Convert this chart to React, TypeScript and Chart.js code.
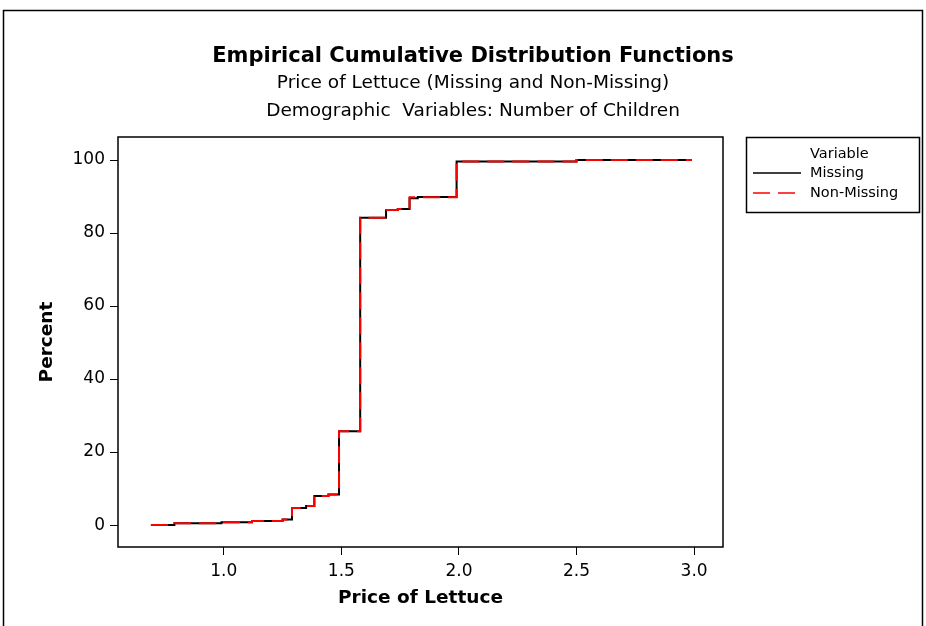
import React, { useEffect, useRef } from 'react';
import { Chart, registerables } from 'chart.js';

Chart.register(...registerables);

const FONT = '"DejaVu Sans", sans-serif';

const missingPrice = [0.69, 0.79, 0.99, 1.12, 1.25, 1.29, 1.35, 1.385, 1.445, 1.49, 1.58, 1.69, 1.74, 1.79, 1.825, 1.99, 2.5, 2.99];
const missingPercent = [0, 0.5, 0.8, 1.1, 1.5, 4.7, 5.2, 8.0, 8.4, 25.7, 84.2, 86.3, 86.6, 89.5, 89.9, 99.6, 100, 100];
const nonMissingPrice = [0.69, 0.79, 0.99, 1.12, 1.25, 1.29, 1.35, 1.385, 1.445, 1.49, 1.58, 1.69, 1.74, 1.79, 1.99, 2.5, 2.99];
const nonMissingPercent = [0, 0.5, 0.8, 1.1, 1.5, 4.7, 5.2, 8.0, 8.4, 25.7, 84.2, 86.3, 86.6, 89.8, 99.6, 100, 100];

const xTicks = [1.0, 1.5, 2.0, 2.5, 3.0];
const yTicks = [0, 20, 40, 60, 80, 100];

const titleText = 'Empirical Cumulative Distribution Functions';
const subtitleLines = ['Price of Lettuce (Missing and Non-Missing)', 'Demographic  Variables: Number of Children'];
const legendTitle = 'Variable';
const seriesNames = ['Missing', 'Non-Missing'];
const xAxisTitle = 'Price of Lettuce';
const yAxisTitle = 'Percent';

const toPoints = (xs: number[], ys: number[]) => xs.map((x, i) => ({ x, y: ys[i] }));

const decorPlugin = {
  id: 'decor',
  beforeDraw(chart: any) {
    const { ctx, width, height } = chart;
    ctx.save();
    ctx.fillStyle = '#ffffff';
    ctx.fillRect(0, 0, width, height);
    ctx.restore();
  },
  afterDraw(chart: any) {
    const { ctx, chartArea: a } = chart;
    ctx.save();
    ctx.strokeStyle = '#000';
    ctx.lineWidth = 1.5;
    // outer frame
    ctx.beginPath();
    ctx.moveTo(3.5, 626);
    ctx.lineTo(3.5, 10.5);
    ctx.lineTo(922.5, 10.5);
    ctx.lineTo(922.5, 626);
    ctx.stroke();
    // plot frame
    ctx.strokeRect(a.left, a.top, a.right - a.left, a.bottom - a.top);
    // titles
    ctx.fillStyle = '#000';
    ctx.textAlign = 'center';
    ctx.textBaseline = 'middle';
    ctx.font = `bold 21px ${FONT}`;
    ctx.fillText(titleText, 473, 57);
    ctx.font = `18.5px ${FONT}`;
    ctx.fillText(subtitleLines[0], 473, 83);
    ctx.fillText(subtitleLines[1], 473, 111);
    // legend
    const lx = 746, ly = 137, lw = 173, lh = 75;
    ctx.strokeRect(lx + 0.5, ly + 0.5, lw, lh);
    ctx.font = `14.5px ${FONT}`;
    ctx.textAlign = 'left';
    ctx.fillText(legendTitle, 810, 154);
    const ds = chart.data.datasets;
    const rows = [173, 193];
    rows.forEach((ry, i) => {
      ctx.save();
      ctx.strokeStyle = ds[i].borderColor;
      ctx.lineWidth = 1.5;
      ctx.setLineDash(ds[i].borderDash || []);
      ctx.beginPath();
      ctx.moveTo(753, ry);
      ctx.lineTo(801, ry);
      ctx.stroke();
      ctx.restore();
      ctx.fillStyle = '#000';
      ctx.fillText(seriesNames[i], 810, ry);
    });
    ctx.restore();
  },
};

export default function App() {
  const ref = useRef<HTMLCanvasElement>(null);
  useEffect(() => {
    if (!ref.current) return;
    const chart = new Chart(ref.current, {
      type: 'scatter',
      data: {
        datasets: [
          {
            label: seriesNames[0],
            data: toPoints(missingPrice, missingPercent),
            showLine: true,
            stepped: 'before',
            borderColor: '#000000',
            borderWidth: 2,
            pointRadius: 0,
            fill: false,
            order: 1,
          },
          {
            label: seriesNames[1],
            data: toPoints(nonMissingPrice, nonMissingPercent),
            showLine: true,
            stepped: 'before',
            borderColor: '#ff0000',
            borderWidth: 2,
            borderDash: [17, 8],
            pointRadius: 0,
            fill: false,
            order: 0,
          },
        ],
      } as any,
      options: {
        animation: false,
        responsive: false,
        layout: { padding: { top: 137, right: 203, left: 0, bottom: 0 } },
        plugins: { legend: { display: false }, tooltip: { enabled: false }, title: { display: false } },
        scales: {
          x: {
            type: 'linear',
            min: 0.55,
            max: 3.123,
            afterFit: (s: any) => { s.height = 79; },
            afterBuildTicks: (s: any) => { s.ticks = xTicks.map((v) => ({ value: v })); },
            ticks: {
              callback: (v: any) => Number(v).toFixed(1),
              font: { family: FONT, size: 17 },
              color: '#000',
              padding: 6,
              maxRotation: 0,
              autoSkip: false,
            },
            grid: { drawOnChartArea: false, drawTicks: true, tickLength: 8, color: '#000', lineWidth: 1 },
            border: { display: false },
            title: {
              display: true,
              text: xAxisTitle,
              font: { family: FONT, size: 18.5, weight: 'bold' },
              color: '#000',
              padding: { top: 0, bottom: 17 },
            },
          },
          y: {
            type: 'linear',
            min: -6,
            max: 106.3,
            afterFit: (s: any) => { s.width = 118; },
            afterBuildTicks: (s: any) => { s.ticks = yTicks.map((v) => ({ value: v })); },
            ticks: {
              callback: (v: any) => String(v),
              font: { family: FONT, size: 17 },
              color: '#000',
              padding: 5,
              autoSkip: false,
            },
            grid: { drawOnChartArea: false, drawTicks: true, tickLength: 8, color: '#000', lineWidth: 1 },
            border: { display: false },
            title: {
              display: true,
              text: yAxisTitle,
              font: { family: FONT, size: 18.5, weight: 'bold' },
              color: '#000',
              padding: { top: 36, bottom: 0 },
            },
          },
        },
      } as any,
      plugins: [decorPlugin],
    });
    return () => chart.destroy();
  }, []);
  return (
    <div style={{ position: 'fixed', left: 0, top: 0, width: 926, height: 626, background: '#fff' }}>
      <canvas ref={ref} width={926} height={626} style={{ display: 'block', width: 926, height: 626 }} />
    </div>
  );
}
